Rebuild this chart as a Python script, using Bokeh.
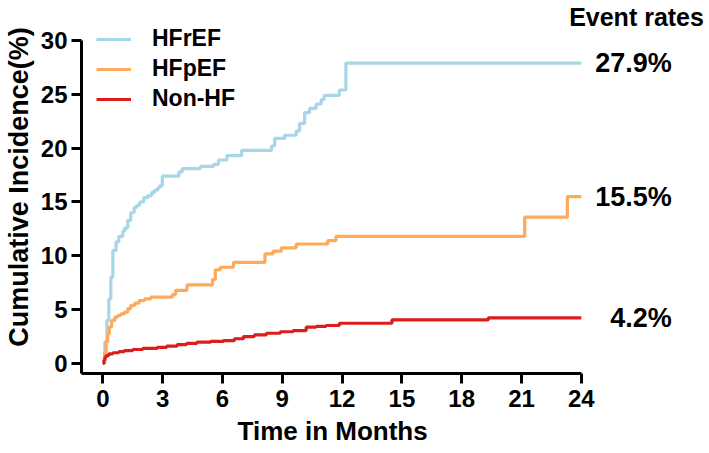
from bokeh.plotting import figure
from bokeh.models import FixedTicker, Legend, LegendItem, Label, Range1d, Title
from bokeh.embed import file_html
from bokeh.resources import INLINE

# ---- data ----
hfref_t = [0, 0.1, 0.2, 0.3, 0.4, 0.5, 0.66, 0.8, 1.0, 1.1, 1.25, 1.4, 1.57, 1.7, 1.85, 2.05, 2.25,
           2.45, 2.6, 2.75, 2.85, 2.98, 3.81, 3.98, 4.89, 5.55, 5.8, 6.22, 6.96, 8.46, 8.62, 9.12,
           9.7, 9.87, 10.12, 10.37, 10.7, 10.95, 11.1, 11.86, 12.19, 24]
hfref_v = [0, 2.0, 4.0, 6.0, 8.0, 10.5, 11.3, 11.8, 12.3, 12.6, 13.3, 14.0, 14.5, 14.7, 15.0, 15.4, 15.6,
           15.9, 16.1, 16.3, 16.5, 17.4, 17.8, 18.1, 18.3, 18.5, 18.9, 19.3, 19.8, 20.2, 20.9, 21.2,
           21.6, 22.3, 23.3, 23.7, 24.1, 24.5, 24.9, 25.4, 27.9, 27.9]

hfpef_t = [0, 0.08, 0.16, 0.24, 0.32, 0.44, 0.6, 0.74, 0.9, 1.07, 1.25, 1.4, 1.6, 1.82, 2.1, 2.4,
           3.48, 3.65, 4.22, 5.5, 5.64, 5.89, 6.55, 8.13, 8.54, 8.95, 9.7, 11.28, 11.69, 21.16, 23.3, 24]
hfpef_v = [0, 1.0, 2.0, 2.75, 3.4, 4.0, 4.3, 4.46, 4.6, 4.77, 5.1, 5.4, 5.6, 5.85, 6.0, 6.16,
           6.4, 6.8, 7.3, 7.8, 8.7, 8.94, 9.4, 10.18, 10.43, 10.74, 11.1, 11.42, 11.8, 13.6, 15.5, 15.5]

nonhf_t = [0, 0.05, 0.1, 0.16, 0.3, 0.5, 0.8, 1.07, 1.5, 2.0, 2.73, 3.2, 3.73, 4.2, 4.72, 5.4, 6.05,
           6.6, 7.05, 7.6, 8.2, 8.9, 9.54, 10.2, 10.7, 11.2, 11.86, 14.5, 19.33, 24]
nonhf_v = [0, 0.3, 0.55, 0.74, 0.9, 1.0, 1.1, 1.2, 1.3, 1.4, 1.5, 1.62, 1.76, 1.87, 1.98, 2.05, 2.13,
           2.3, 2.5, 2.65, 2.81, 2.95, 3.06, 3.37, 3.45, 3.53, 3.74, 4.05, 4.24, 4.24]

series_names = ["HFrEF", "HFpEF", "Non-HF"]
rate_labels = ["27.9%", "15.5%", "4.2%"]
x_ticks = [0, 3, 6, 9, 12, 15, 18, 21, 24]
y_ticks = [0, 5, 10, 15, 20, 25, 30]

colors = ["#a6d6e8", "#fdaa5c", "#dd1c1c"]
FONT = "Liberation Sans"

X0, X1 = -1.072, 30.43
Y0, Y1 = -0.929, 33.715

p = figure(width=709, height=453, output_backend="svg", toolbar_location=None,
           x_range=Range1d(X0, X1), y_range=Range1d(Y0, Y1),
           min_border_left=77, min_border_right=0, min_border_top=0, min_border_bottom=80)
p.outline_line_color = None
p.grid.visible = False

renderers = []
for t, v, c in zip([hfref_t, hfpef_t, nonhf_t], [hfref_v, hfpef_v, nonhf_v], colors):
    r = p.step(t, v, mode="after", line_color=c, line_width=3.2)
    renderers.append(r)

legend = Legend(items=[LegendItem(label=n, renderers=[r]) for n, r in zip(series_names, renderers)],
                location=(15, 261), orientation="vertical")
legend.background_fill_alpha = 0
legend.border_line_alpha = 0
legend.padding = 0
legend.margin = 0
legend.spacing = 3
legend.glyph_width = 35
legend.label_standoff = 21
legend.label_text_font = FONT
legend.label_text_font_style = "bold"
legend.label_text_font_size = "23px"
legend.label_text_color = "black"
p.add_layout(legend, "center")

for ax in (p.xaxis[0], p.yaxis[0]):
    ax.axis_line_width = 3
    ax.axis_line_color = "black"
    ax.major_tick_line_width = 3
    ax.major_tick_line_color = "black"
    ax.major_tick_out = 10
    ax.major_tick_in = 0
    ax.minor_tick_line_color = None
    ax.major_label_text_font = FONT
    ax.major_label_text_font_style = "bold"
    ax.major_label_text_font_size = "24px"
    ax.major_label_text_color = "black"
    ax.axis_label_text_font = FONT
    ax.axis_label_text_font_style = "bold"
    ax.axis_label_text_color = "black"

p.xaxis[0].ticker = FixedTicker(ticks=x_ticks)
p.yaxis[0].ticker = FixedTicker(ticks=y_ticks)
p.xaxis[0].bounds = (X0, 24)
p.yaxis[0].bounds = (Y0, 30)
p.xaxis[0].major_label_standoff = 6
p.yaxis[0].axis_label = "Cumulative Incidence(%)"
p.yaxis[0].axis_label_text_font_size = "27px"
p.yaxis[0].axis_label_standoff = 4
p.yaxis[0].major_label_standoff = 4

xt = Title(text="Time in Months", align="left", offset=156, standoff=8,
           text_font=FONT, text_font_style="bold", text_font_size="26px", text_color="black")
p.add_layout(xt, "below")

finals = [hfref_v[-1], hfpef_v[-1], nonhf_v[-1]]
for lab, yv in zip(rate_labels, finals):
    p.add_layout(Label(x=28.54, y=yv, text=lab, text_align="right", text_baseline="middle",
                       text_font=FONT, text_font_style="bold", text_font_size="27px",
                       text_color="black"))
p.add_layout(Label(x=30.15, y=32.2, text="Event rates", text_align="right", text_baseline="middle",
                   text_font=FONT, text_font_style="bold", text_font_size="25px", text_color="black"))

open("out.html", "w").write(file_html(p, INLINE))
